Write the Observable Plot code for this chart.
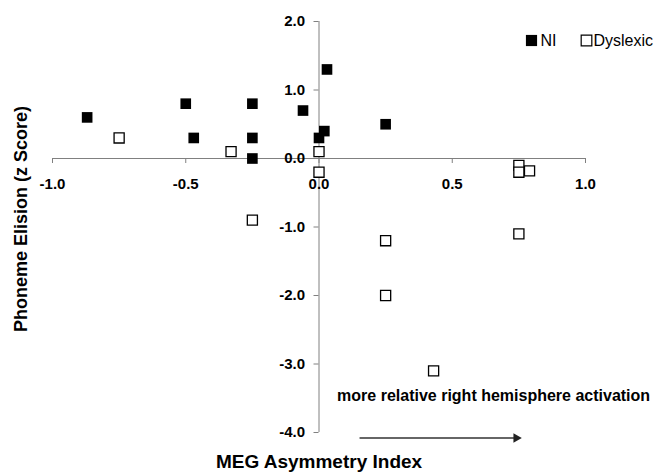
<!DOCTYPE html>
<html>
<head>
<meta charset="utf-8">
<script src="https://cdn.jsdelivr.net/npm/d3@7"></script>
<script src="https://cdn.jsdelivr.net/npm/@observablehq/plot@0.6"></script>
<style>
  html, body { margin: 0; padding: 0; background: #fff; }
</style>
</head>
<body>
<div id="chart"></div>
<script>
// ---- Data ----
const niX  = [-0.87, -0.50, -0.47, -0.25, -0.25, -0.25, -0.06, 0.00, 0.02, 0.03, 0.25];
const niY  = [ 0.60,  0.80,  0.30,  0.80,  0.30,  0.00,  0.70, 0.30, 0.40, 1.30, 0.50];
const dysX = [-0.75, -0.33, 0.00,  0.00,  0.75,  0.75,  0.79, -0.25,  0.25,  0.25,  0.75,  0.43];
const dysY = [ 0.30,  0.10, 0.10, -0.20, -0.10, -0.20, -0.18, -0.90, -1.20, -2.00, -1.10, -3.10];

const xTicks = [-1, -0.5, 0, 0.5, 1];
const xTickLabels = ["-1.0", "-0.5", "0.0", "0.5", "1.0"];
const yTicks = [2, 1, 0, -1, -2, -3, -4];
const yTickLabels = ["2.0", "1.0", "0.0", "-1.0", "-2.0", "-3.0", "-4.0"];

const seriesNames = ["NI", "Dyslexic"];
const xTitle = "MEG Asymmetry Index";
const yTitle = "Phoneme Elision (z Score)";
const noteText = "more relative right hemisphere activation";
const noteX = [0.068];
const noteY = [-3.54];
const arrowFrom = [0.154];
const arrowTo = [0.74];
const arrowY = [-4.08];

const ni = niX.map((x, i) => ({x, y: niY[i]}));
const dys = dysX.map((x, i) => ({x, y: dysY[i]}));
const xt = xTicks.map((v, i) => ({v, label: xTickLabels[i]}));
const yt = yTicks.map((v, i) => ({v, label: yTickLabels[i]}));

const axisColor = "#808080";
const font = "Liberation Sans, Arial, Helvetica, sans-serif";

const chart = Plot.plot({
  width: 653,
  height: 472,
  marginLeft: 52,
  marginRight: 68,
  marginTop: 21,
  marginBottom: 40,
  x: {domain: [-1, 1], axis: null},
  y: {domain: [-4, 2], axis: null},
  style: {fontFamily: font, background: "white", color: "black"},
  marks: [
    // axis lines crossing at origin
    Plot.ruleY([0], {x1: xTicks[0], x2: xTicks[xTicks.length - 1], stroke: axisColor, strokeWidth: 1}),
    Plot.ruleX([0], {y1: yTicks[yTicks.length - 1], y2: yTicks[0], stroke: axisColor, strokeWidth: 1}),
    // tick marks
    Plot.ruleX(xt, {x: "v", y1: 0, y2: 0, insetBottom: -5, stroke: axisColor}),
    Plot.ruleY(yt, {y: "v", x1: 0, x2: 0, insetLeft: -5, stroke: axisColor}),
    // tick labels
    Plot.text(xt, {x: "v", y: 0, text: "label", dy: 20, lineAnchor: "top", fontSize: 15, fontWeight: "bold", fill: "black"}),
    Plot.text(yt, {x: 0, y: "v", text: "label", dx: -14, textAnchor: "end", lineAnchor: "middle", fontSize: 15, fontWeight: "bold", fill: "black"}),
    // data
    Plot.dot(ni, {x: "x", y: "y", symbol: "square", r: 6, fill: "black", stroke: "none"}),
    Plot.dot(dys, {x: "x", y: "y", symbol: "square", r: 5.7, fill: "white", stroke: "black", strokeWidth: 1.3}),
    // annotation
    Plot.text(noteX.map((x, i) => ({x, y: noteY[i], t: noteText})), {x: "x", y: "y", text: "t", textAnchor: "start", lineAnchor: "bottom", fontSize: 16, fontWeight: "bold", fill: "black"}),
    Plot.ruleY(arrowY.map((y, i) => ({y, x1: arrowFrom[i], x2: arrowTo[i]})), {y: "y", x1: "x1", x2: "x2", stroke: "#333", strokeWidth: 1.5}),
    Plot.dot(arrowY.map((y, i) => ({y, x: arrowTo[i]})), {x: "x", y: "y", symbol: "triangle", rotate: 90, r: 3.6, fill: "#222", stroke: "none"}),
    // legend
    Plot.dot([seriesNames[0]], {frameAnchor: "top-right", dx: -54, dy: 19, symbol: "square", r: 6.3, fill: "black", stroke: "none"}),
    Plot.text([seriesNames[0]], {frameAnchor: "top-right", dx: -45, dy: 19, text: d => d, textAnchor: "start", lineAnchor: "middle", fontSize: 16, fill: "black"}),
    Plot.dot([seriesNames[1]], {frameAnchor: "top-right", dx: 1, dy: 19, symbol: "square", r: 6, fill: "white", stroke: "black", strokeWidth: 1.2}),
    Plot.text([seriesNames[1]], {frameAnchor: "top-right", dx: 8, dy: 19, text: d => d, textAnchor: "start", lineAnchor: "middle", fontSize: 16, fill: "black"}),
    // axis titles
    Plot.text([xTitle], {frameAnchor: "bottom", dy: 35.5, text: d => d, textAnchor: "middle", lineAnchor: "bottom", fontSize: 19, fontWeight: "bold", fill: "black"}),
    Plot.text([yTitle], {frameAnchor: "left", dx: -31, dy: -8, text: d => d, rotate: -90, textAnchor: "middle", lineAnchor: "middle", fontSize: 18, fontWeight: "bold", fill: "black"})
  ]
});

document.getElementById("chart").appendChild(chart);
</script>
</body>
</html>
